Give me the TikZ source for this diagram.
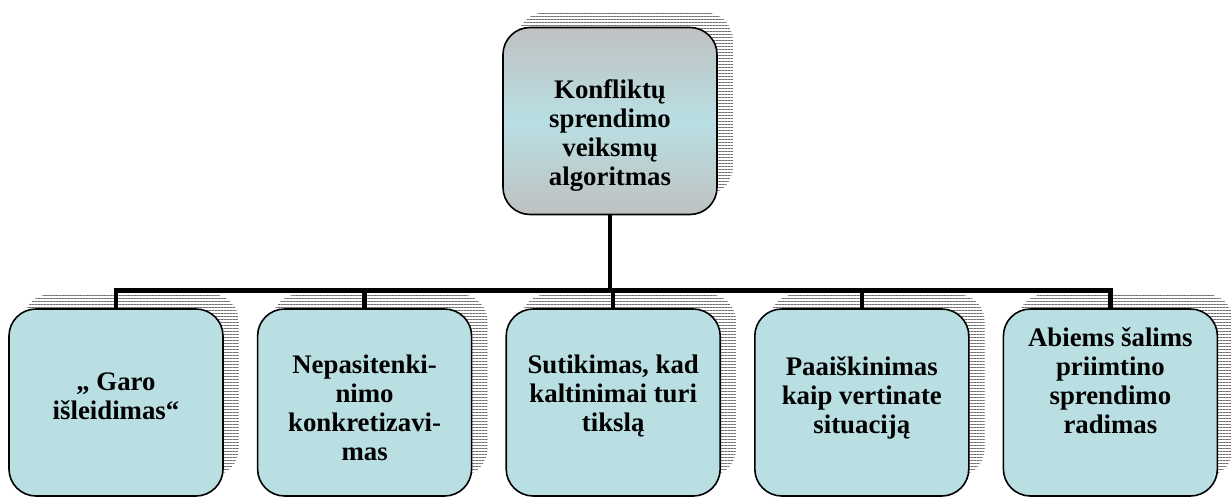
\documentclass[tikz,border=0pt]{standalone}
\usepackage{fontspec}
\setmainfont{Liberation Serif}
\usetikzlibrary{positioning,patterns.meta,backgrounds}
\definecolor{boxblue}{RGB}{185,223,227}
\definecolor{boxgray}{RGB}{191,193,193}
\definecolor{shadowgray}{RGB}{110,110,110}
\tikzset{main node/.style={rectangle,rounded corners=27pt,draw,line width=1.6pt,fill=boxblue,minimum width=214pt,minimum height=187pt,inner sep=0pt},
  box text/.style={align=center,font=\fontsize{26.8}{29}\selectfont\bfseries,inner sep=0pt},
  conn/.style={line width=4.5pt,line join=miter},
  shadow lines/.style={pattern={Lines[angle=0,distance=3pt,line width=1pt]},pattern color=shadowgray,rounded corners=27pt},}

\begin{document}
\begin{tikzpicture}[x=1pt,y=-1pt]
  \useasboundingbox (0,0) rectangle (1231,497);

  \node[main node,top color=boxgray,bottom color=boxgray,middle color=boxblue] (0) at (610,121) {};
  \node[main node] (1) at (116,402.5) {};
  \node[main node] (2) [right = 33pt of 1] {};
  \node[main node] (3) [right = 33pt of 2] {};
  \node[main node] (4) [right = 33pt of 3] {};
  \node[main node] (5) [right = 33pt of 4] {};

  % striped shadows behind the boxes
  \begin{scope}[on background layer]
    \foreach \n in {0,...,5}
      \fill[white] ([shift={(15,-14)}]\n.north west) [rounded corners=27pt] rectangle ([shift={(15,-21)}]\n.south east);
    \foreach \n in {0,...,5}
      \fill[shadow lines] ([shift={(15,-14)}]\n.north west) rectangle ([shift={(15,-21)}]\n.south east);
  \end{scope}

  \node[box text] (t0) at ([yshift=-15pt]0) {Konfliktų\\sprendimo\\veiksmų\\algoritmas};
  \node[box text] (t1) at ([yshift=6pt]1) {„ Garo\\išleidimas“};
  \node[box text] (t2) at ([yshift=-5pt]2) {Nepasitenki-\\nimo\\konkretizavi-\\mas};
  \node[box text] (t3) at ([yshift=6pt]3) {Sutikimas, kad\\kaltinimai turi\\tikslą};
  \node[box text] (t4) at ([yshift=5pt]4) {Paaiškinimas\\kaip vertinate\\situaciją};
  \node[box text] (t5) at ([yshift=22pt]5) {Abiems šalims\\priimtino\\sprendimo\\radimas};

  \draw[conn] (0.south) -- ++(0,75) coordinate (bus);
  \draw[conn] (1.north) |- (bus) -| (5.north);
  \draw[conn] (2.north) -- (2.north |- bus);
  \draw[conn] (3.north) -- (3.north |- bus);
  \draw[conn] (4.north) -- (4.north |- bus);

\end{tikzpicture}
\end{document}
